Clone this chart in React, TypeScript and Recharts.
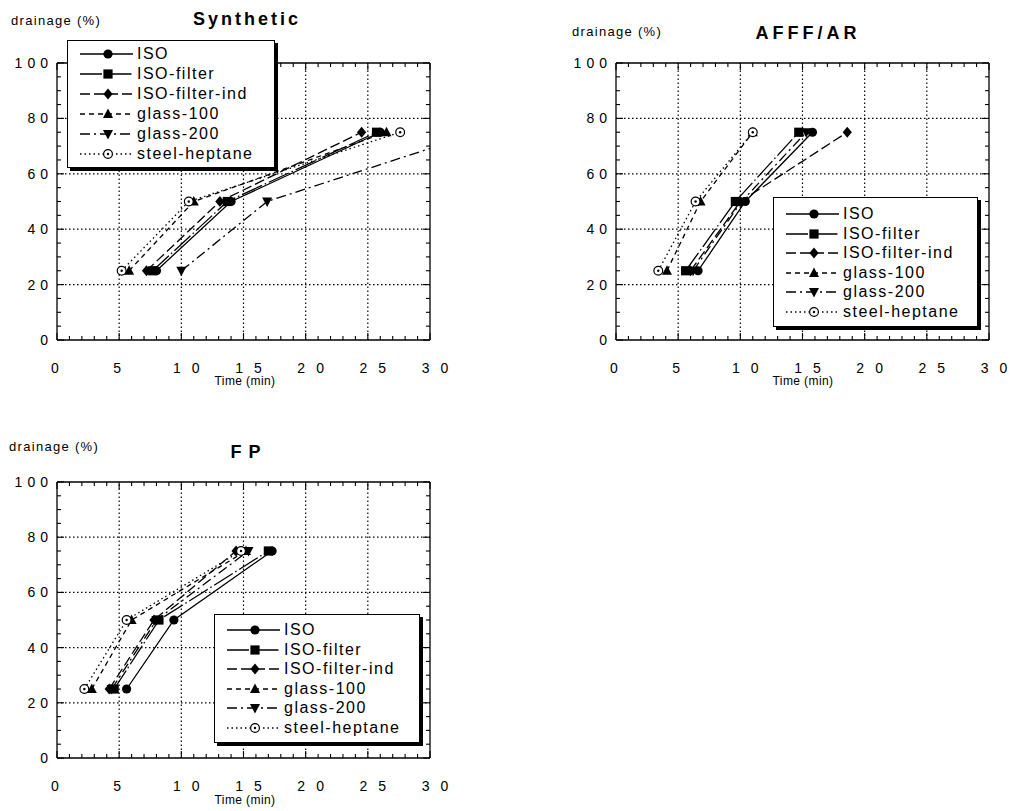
import * as React from "react";
import { LineChart, Line, XAxis, YAxis, ReferenceLine } from "recharts";

// drainage levels (%) at which times were measured
const DRAIN_LEVELS = [25, 50, 75];

// times (min) per series, Synthetic foam
const SYN_ISO = [8.0, 14.0, 26.0];
const SYN_ISO_FILTER = [7.7, 13.7, 25.7];
const SYN_ISO_FILTER_IND = [7.2, 13.1, 24.5];
const SYN_GLASS_100 = [5.8, 11.0, 26.5];
const SYN_GLASS_200 = [10.0, 16.9, 34.0];
const SYN_STEEL_HEPTANE = [5.2, 10.6, 27.6];

// AFFF/AR
const AR_ISO = [6.6, 10.4, 15.8];
const AR_ISO_FILTER = [5.6, 9.6, 14.7];
const AR_ISO_FILTER_IND = [6.0, 10.0, 18.6];
const AR_GLASS_100 = [4.1, 6.8, 11.0];
const AR_GLASS_200 = [6.2, 10.1, 15.3];
const AR_STEEL_HEPTANE = [3.4, 6.4, 11.0];

// FP
const FP_ISO = [5.6, 9.4, 17.3];
const FP_ISO_FILTER = [4.6, 8.2, 17.0];
const FP_ISO_FILTER_IND = [4.2, 7.8, 14.4];
const FP_GLASS_100 = [2.8, 6.0, 15.2];
const FP_GLASS_200 = [4.4, 8.0, 15.4];
const FP_STEEL_HEPTANE = [2.2, 5.6, 14.8];

const X_TICKS = [
  0, 1, 2, 3, 4, 5, 6, 7, 8, 9, 10, 11, 12, 13, 14, 15, 16, 17, 18, 19, 20,
  21, 22, 23, 24, 25, 26, 27, 28, 29, 30,
];
const X_MAJOR = [0, 5, 10, 15, 20, 25, 30];
const X_GRID = [5, 10, 15, 20, 25];
const Y_TICKS = [0, 5, 10, 15, 20, 25, 30, 35, 40, 45, 50, 55, 60, 65, 70, 75, 80, 85, 90, 95, 100];
const Y_MAJOR = [0, 20, 40, 60, 80, 100];
const Y_GRID = [20, 40, 60, 80];

const SERIES_NAMES = ["ISO", "ISO-filter", "ISO-filter-ind", "glass-100", "glass-200", "steel-heptane"];
const SERIES_SHAPES = ["circle", "square", "diamond", "triangle", "triangleDown", "openCircle"];
const SERIES_DASH = [undefined, "22 3 1.5 3", "10 4", "5 4", "10 4 2 4", "1.5 3"];

const FONT = '"Liberation Sans", Arial, Helvetica, sans-serif';
const INK = "#000";
const DIGIT_W = 7.8; // 14px Liberation Sans digit advance

// axis box sizes; margins below are reduced by these so the plot frame lands where the scan has it
const B_H = 40;
const L_W = 50;
const T_H = 5;
const R_W = 5;

function Marker({ shape, cx, cy }: { shape: string; cx: number; cy: number }) {
  switch (shape) {
    case "circle":
      return <circle cx={cx} cy={cy} r={4.6} fill={INK} />;
    case "square":
      return <rect x={cx - 4.6} y={cy - 4.6} width={9.2} height={9.2} fill={INK} />;
    case "diamond":
      return (
        <polygon
          points={`${cx},${cy - 5.5} ${cx + 4.6},${cy} ${cx},${cy + 5.5} ${cx - 4.6},${cy}`}
          fill={INK}
        />
      );
    case "triangle":
      return (
        <polygon points={`${cx},${cy - 5.5} ${cx + 5},${cy + 4} ${cx - 5},${cy + 4}`} fill={INK} />
      );
    case "triangleDown":
      return (
        <polygon points={`${cx},${cy + 5.5} ${cx + 5},${cy - 4} ${cx - 5},${cy - 4}`} fill={INK} />
      );
    default:
      return (
        <g>
          <circle cx={cx} cy={cy} r={4.4} fill="#fff" stroke={INK} strokeWidth={1.2} />
          <circle cx={cx} cy={cy} r={1.2} fill={INK} />
        </g>
      );
  }
}

// digits spread apart like the typewriter-ish labels in the scan
function SpacedNumber({ left, y, s, gap }: { left: number; y: number; s: string; gap: number }) {
  return (
    <text y={y} fontSize={14} fill={INK} fontFamily={FONT}>
      {s.split("").map((c, k) => (
        <tspan key={k} x={left + k * (DIGIT_W + gap)}>
          {c}
        </tspan>
      ))}
    </text>
  );
}

function BottomTick(p: any) {
  const { x, y, payload } = p;
  const v = payload.value;
  const major = X_MAJOR.includes(v);
  const s = String(v);
  const w = s.length * DIGIT_W + (s.length - 1) * 11;
  const off = s.length > 1 ? 5 : -2;
  return (
    <g>
      <line x1={x} y1={y} x2={x} y2={y - (major ? 7 : 4)} stroke={INK} strokeWidth={1.1} />
      {major && <SpacedNumber left={x + off - w / 2} y={y + 33} s={s} gap={11} />}
    </g>
  );
}

function TopTick(p: any) {
  const { x, y, payload } = p;
  const major = X_MAJOR.includes(payload.value);
  return <line x1={x} y1={y} x2={x} y2={y + (major ? 7 : 4)} stroke={INK} strokeWidth={1.1} />;
}

function LeftTick(p: any) {
  const { x, y, payload } = p;
  const v = payload.value;
  const major = Y_MAJOR.includes(v);
  const s = String(v);
  const w = s.length * DIGIT_W + (s.length - 1) * 5;
  return (
    <g>
      <line x1={x} y1={y} x2={x + (major ? 7 : 4)} y2={y} stroke={INK} strokeWidth={1.1} />
      {major && <SpacedNumber left={x - 9 - w} y={y + 5} s={s} gap={5} />}
    </g>
  );
}

function RightTick(p: any) {
  const { x, y, payload } = p;
  const major = Y_MAJOR.includes(payload.value);
  return <line x1={x} y1={y} x2={x - (major ? 7 : 4)} y2={y} stroke={INK} strokeWidth={1.1} />;
}

function LegendBox({ box }: { box: any }) {
  return (
    <div
      style={{
        position: "absolute",
        left: box.left,
        top: box.top,
        width: box.width,
        height: box.height,
        boxSizing: "border-box",
        border: "1.5px solid #000",
        boxShadow: "3px 3px 0 #000",
        background: "#fff",
        zIndex: 2,
      }}
    >
      {SERIES_NAMES.map((name, i) => {
        const cy = box.first + i * box.pitch;
        return (
          <div key={name} style={{ position: "absolute", left: 0, top: cy - 11, height: 22, width: "100%" }}>
            <svg width={68} height={22} style={{ position: "absolute", left: 0, top: 0 }}>
              <line x1={12} y1={11} x2={65} y2={11} stroke={INK} strokeWidth={1.3} strokeDasharray={SERIES_DASH[i]} />
              <Marker shape={SERIES_SHAPES[i]} cx={40} cy={11} />
            </svg>
            <span
              style={{
                position: "absolute",
                left: 69,
                top: 0,
                lineHeight: "22px",
                fontSize: 16,
                letterSpacing: 1.5,
                fontFamily: FONT,
                color: INK,
                whiteSpace: "nowrap",
              }}
            >
              {name}
            </span>
          </div>
        );
      })}
    </div>
  );
}

function Panel({ cfg, times }: { cfg: any; times: number[][] }) {
  const axisLine = { stroke: INK, strokeWidth: 1.3 };
  const f = cfg.frame; // frame offsets from the panel's edges
  const margin = {
    top: f.top - T_H,
    right: f.right - R_W,
    bottom: f.bottom - B_H,
    left: f.left - L_W,
  };
  return (
    <div style={{ position: "absolute", left: cfg.left, top: cfg.top, width: cfg.width, height: cfg.height }}>
      <div
        style={{
          position: "absolute",
          left: cfg.drainX,
          top: cfg.drainY - 9,
          lineHeight: "18px",
          fontSize: 13,
          letterSpacing: 1.3,
          fontFamily: FONT,
          whiteSpace: "nowrap",
        }}
      >
        drainage (%)
      </div>
      <div
        style={{
          position: "absolute",
          left: cfg.titleX - 100,
          width: 200,
          top: cfg.titleY - 11,
          lineHeight: "22px",
          textAlign: "center",
          fontSize: 18,
          fontWeight: "bold",
          letterSpacing: cfg.titleSpacing,
          fontFamily: FONT,
        }}
      >
        {cfg.title}
      </div>
      <div
        style={{
          position: "absolute",
          left: cfg.timeX - 60,
          width: 120,
          top: cfg.timeY - 8,
          lineHeight: "16px",
          textAlign: "center",
          fontSize: 12,
          letterSpacing: 0.4,
          fontFamily: FONT,
          zIndex: 3,
        }}
      >
        Time (min)
      </div>
      <LineChart width={cfg.width} height={cfg.height} margin={margin}>
        <XAxis
          xAxisId="b"
          type="number"
          dataKey="x"
          domain={[0, 30]}
          allowDataOverflow
          ticks={X_TICKS}
          interval={0}
          height={B_H}
          tickSize={0}
          tickMargin={0}
          tickLine={false}
          axisLine={axisLine}
          tick={(p: any) => <BottomTick {...p} />}
        />
        <XAxis
          xAxisId="t"
          orientation="top"
          type="number"
          dataKey="x"
          domain={[0, 30]}
          allowDataOverflow
          ticks={X_TICKS}
          interval={0}
          height={T_H}
          tickSize={0}
          tickMargin={0}
          tickLine={false}
          axisLine={axisLine}
          tick={(p: any) => <TopTick {...p} />}
        />
        <YAxis
          yAxisId="l"
          type="number"
          domain={[0, 100]}
          allowDataOverflow
          ticks={Y_TICKS}
          interval={0}
          width={L_W}
          tickSize={0}
          tickMargin={0}
          tickLine={false}
          axisLine={axisLine}
          tick={(p: any) => <LeftTick {...p} />}
        />
        <YAxis
          yAxisId="r"
          orientation="right"
          type="number"
          domain={[0, 100]}
          allowDataOverflow
          ticks={Y_TICKS}
          interval={0}
          width={R_W}
          tickSize={0}
          tickMargin={0}
          tickLine={false}
          axisLine={axisLine}
          tick={(p: any) => <RightTick {...p} />}
        />
        {X_GRID.map((v) => (
          <ReferenceLine key={`gx${v}`} x={v} xAxisId="b" yAxisId="l" stroke={INK} strokeWidth={1.2} strokeDasharray="1.5 2.5" />
        ))}
        {Y_GRID.map((v) => (
          <ReferenceLine key={`gy${v}`} y={v} xAxisId="b" yAxisId="l" stroke={INK} strokeWidth={1.2} strokeDasharray="1.5 2.5" />
        ))}
        {times.map((t, i) => (
          <Line
            key={SERIES_NAMES[i]}
            name={SERIES_NAMES[i]}
            xAxisId="b"
            yAxisId="l"
            type="linear"
            data={DRAIN_LEVELS.map((y, j) => ({ x: t[j], y }))}
            dataKey="y"
            stroke={INK}
            strokeWidth={1.3}
            strokeDasharray={SERIES_DASH[i]}
            dot={(p: any) => <Marker key={`${SERIES_NAMES[i]}-${p.index}`} shape={SERIES_SHAPES[i]} cx={p.cx} cy={p.cy} />}
            activeDot={false}
            isAnimationActive={false}
          />
        ))}
      </LineChart>
      <LegendBox box={cfg.legend} />
    </div>
  );
}

const P1 = {
  left: 0, top: 0, width: 460, height: 400,
  frame: { top: 63, right: 30, bottom: 60, left: 57 },
  title: "Synthetic", titleX: 247, titleY: 19, titleSpacing: 3,
  drainX: 11, drainY: 21, timeX: 245, timeY: 381,
  legend: { left: 67, top: 40, width: 208, height: 128, first: 13, pitch: 20 },
};
const P2 = {
  left: 560, top: 0, width: 455, height: 400,
  frame: { top: 63, right: 26, bottom: 60, left: 56 },
  title: "AFFF/AR", titleX: 248, titleY: 33, titleSpacing: 4,
  drainX: 12, drainY: 32, timeX: 243, timeY: 381,
  legend: { left: 213, top: 197, width: 205, height: 130, first: 16, pitch: 19.5 },
};
const P3 = {
  left: 0, top: 419, width: 460, height: 392,
  frame: { top: 63, right: 30, bottom: 53, left: 57 },
  title: "F P", titleX: 246, titleY: 33, titleSpacing: 1,
  drainX: 9, drainY: 28, timeX: 245, timeY: 381,
  legend: { left: 214, top: 195, width: 206, height: 129, first: 15, pitch: 19.6 },
};

export default function App() {
  return (
    <div style={{ position: "fixed", left: 0, top: 0, width: 1015, height: 811, background: "#fff", fontFamily: FONT }}>
      <Panel
        cfg={P1}
        times={[SYN_ISO, SYN_ISO_FILTER, SYN_ISO_FILTER_IND, SYN_GLASS_100, SYN_GLASS_200, SYN_STEEL_HEPTANE]}
      />
      <Panel
        cfg={P2}
        times={[AR_ISO, AR_ISO_FILTER, AR_ISO_FILTER_IND, AR_GLASS_100, AR_GLASS_200, AR_STEEL_HEPTANE]}
      />
      <Panel
        cfg={P3}
        times={[FP_ISO, FP_ISO_FILTER, FP_ISO_FILTER_IND, FP_GLASS_100, FP_GLASS_200, FP_STEEL_HEPTANE]}
      />
    </div>
  );
}
